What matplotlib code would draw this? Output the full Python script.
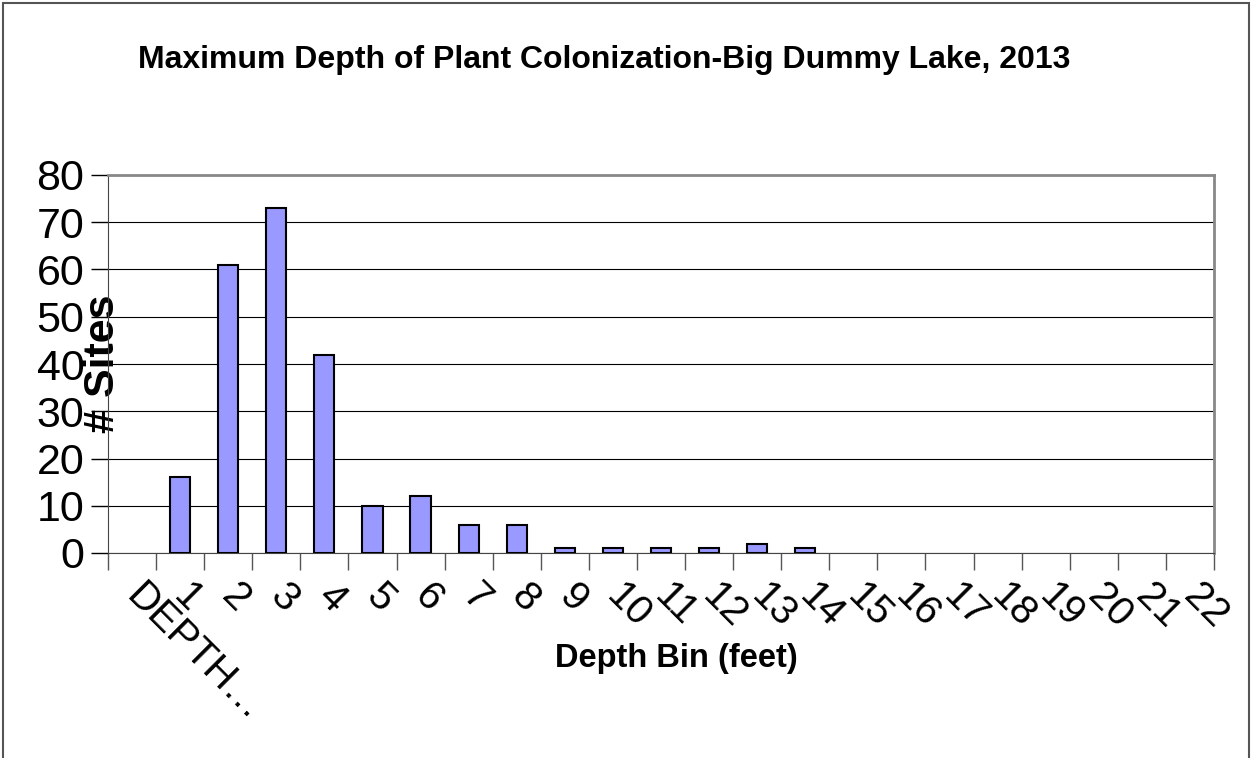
import matplotlib
matplotlib.use("Agg")
import matplotlib.pyplot as plt
from matplotlib.patches import Rectangle
import numpy as np

plt.rcParams['font.family'] = ['Liberation Sans', 'DejaVu Sans']

# data
categories = ["DEPTH…"] + [str(i) for i in range(1, 23)]
sites = [0, 16, 61, 73, 42, 10, 12, 6, 6, 1, 1, 1, 1, 2, 1, 0, 0, 0, 0, 0, 0, 0, 0]
yticks = [0, 10, 20, 30, 40, 50, 60, 70, 80]

fig = plt.figure(figsize=(12.52, 7.58), dpi=100)
ax = fig.add_axes([108/1252, 1 - 553/758, (1214-108)/1252, (553-175)/758])

x = np.arange(len(categories))
# empty bins show no outline
edge_w = [1.5 if v > 0 else 0 for v in sites]
ax.bar(x, sites, width=0.42, color="#9999ff", edgecolor="black", linewidth=edge_w, zorder=3)

ax.set_xlim(-0.5, len(categories) - 0.5)
ax.set_ylim(0, 80)
ax.set_yticks(yticks)
ax.set_yticklabels([str(v) for v in yticks], fontsize=31)
ax.yaxis.grid(True, color="black", linewidth=0.8)
ax.set_axisbelow(True)
ax.tick_params(axis="y", direction="out", length=12, width=1, pad=5)

ax.set_xticks(x)
ax.set_xticklabels(categories, fontsize=29, rotation=-45, ha="left",
                   va="center", rotation_mode="anchor")
ax.tick_params(axis="x", which="major", length=0, pad=27)
ax.set_xticks(np.arange(-0.5, len(categories), 1), minor=True)
ax.tick_params(axis="x", which="minor", direction="out", length=12, width=1, color="#555555")

for s in ["top", "right"]:
    ax.spines[s].set_color("#888888")
    ax.spines[s].set_linewidth(2)
ax.spines["left"].set_color("#444444")
ax.spines["bottom"].set_color("#444444")

ax.set_ylabel("# Sites", fontsize=31, fontweight="bold")
ax.yaxis.set_label_coords(0.0135, 0.5)
ax.set_xlabel("Depth Bin (feet)", fontsize=23.5, fontweight="bold")
ax.xaxis.set_label_coords(0.5136, -0.238)

fig.text(604/1252, 1 - 60/758, "Maximum Depth of Plant Colonization-Big Dummy Lake, 2013",
         fontsize=23, fontweight="bold", ha="center", va="center")

fig.patches.append(Rectangle((3/1252, -0.01), 1246/1252, 1 - 3/758 + 0.01,
                             transform=fig.transFigure, fill=False,
                             edgecolor="#555555", linewidth=1.5))

fig.savefig("out.png", dpi=100)
